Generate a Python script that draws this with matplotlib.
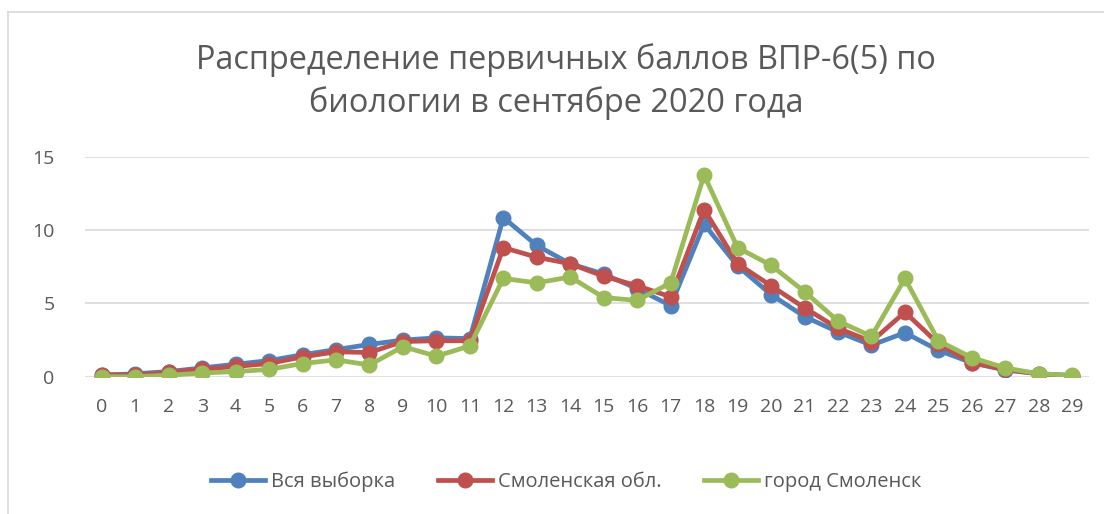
import matplotlib
matplotlib.use("Agg")
import matplotlib.pyplot as plt
from matplotlib.lines import Line2D

plt.rcParams['font.family'] = ['Open Sans', 'DejaVu Sans']

scores = list(range(30))
all_sample = [0.1, 0.2, 0.35, 0.6, 0.85, 1.1, 1.5, 1.85, 2.2, 2.5, 2.65, 2.6, 10.85, 8.95, 7.7,
              7.0, 6.0, 4.85, 10.4, 7.55, 5.6, 4.1, 3.05, 2.15, 3.0, 1.8, 0.95, 0.45, 0.2, 0.08]
region = [0.15, 0.1, 0.3, 0.5, 0.7, 0.9, 1.35, 1.7, 1.65, 2.4, 2.45, 2.45, 8.8, 8.15, 7.7,
          6.85, 6.2, 5.45, 11.4, 7.7, 6.2, 4.7, 3.3, 2.4, 4.4, 2.25, 0.95, 0.5, 0.2, 0.05]
city = [0.0, 0.0, 0.1, 0.25, 0.35, 0.5, 0.9, 1.15, 0.8, 2.05, 1.4, 2.1, 6.7, 6.4, 6.8,
        5.4, 5.2, 6.4, 13.75, 8.8, 7.6, 5.8, 3.8, 2.75, 6.7, 2.45, 1.3, 0.6, 0.2, 0.1]
labels = ["Вся выборка", "Смоленская обл.", "город Смоленск"]
colors = ["#4F81BD", "#C0504D", "#9BBB59"]

fig = plt.figure(figsize=(11.04, 5.14), dpi=100)
ax = fig.add_axes([0.077, 0.2671, 0.9094, 0.428])

for vals, lab, c in zip([all_sample, region, city], labels, colors):
    ax.plot(scores, vals, color=c, lw=3.4, marker="o", ms=10.5, label=lab,
            solid_joinstyle="round")

ax.set_xlim(-0.5, 29.5)
ax.set_ylim(0, 15)
ax.set_yticks([0, 5, 10, 15])
ax.set_xticks(scores)
ax.grid(axis="y", color="#D9D9D9", lw=1.2)
ax.set_axisbelow(True)
for s in ax.spines.values():
    s.set_visible(False)
ax.tick_params(length=0, labelsize=14, labelcolor="#595959")
ax.tick_params(axis="y", pad=22)
ax.tick_params(axis="x", pad=15)

fig.text(0.513, 0.883, "Распределение первичных баллов ВПР-6(5) по",
         ha="center", va="center", fontsize=23.4, color="#595959")
fig.text(0.504, 0.800, "биологии в сентябре 2020 года",
         ha="center", va="center", fontsize=23.4, color="#595959")

# chart frame edges
fig.add_artist(Line2D([0.0068, 1.0], [0.9767, 0.9767], color="#D9D9D9", lw=1.2))
fig.add_artist(Line2D([0.0068, 0.0068], [0.0, 0.9767], color="#D9D9D9", lw=1.2))

fig.legend(loc="center", bbox_to_anchor=(0.513, 0.062), ncol=3, frameon=False,
           fontsize=14.5, labelcolor="#595959", handlelength=2.7, columnspacing=2.1,
           handletextpad=0.3)

fig.savefig("out.png", dpi=100)
